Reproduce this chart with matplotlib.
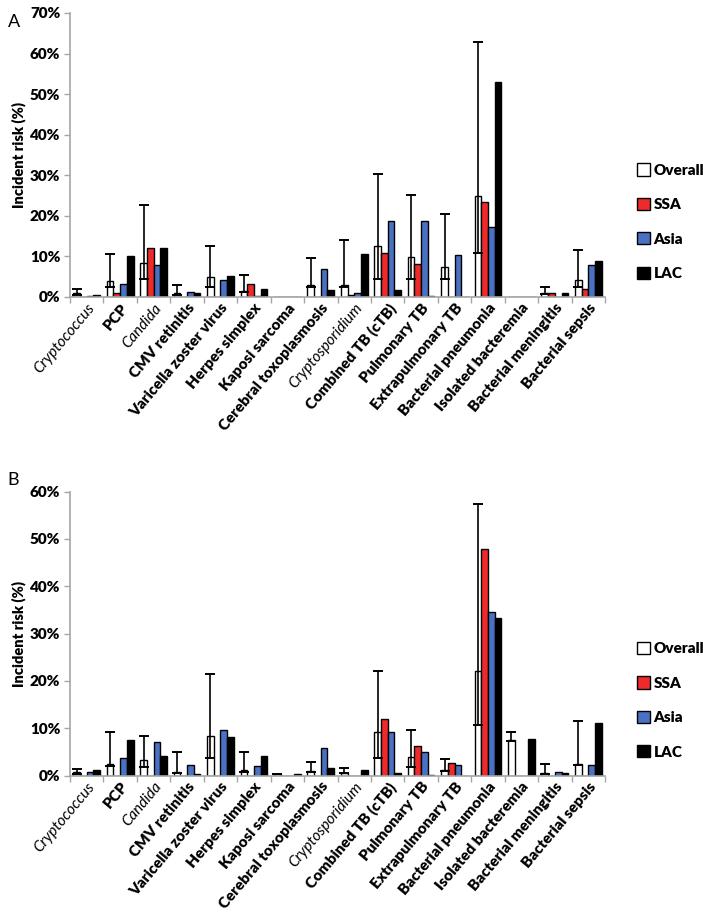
import numpy as np
import matplotlib.pyplot as plt
from matplotlib.patches import Patch

plt.rcParams['font.family'] = ['Lato', 'DejaVu Sans']

categories = ['Cryptococcus', 'PCP', 'Candida', 'CMV retinitis', 'Varicella zoster virus',
              'Herpes simplex', 'Kaposi sarcoma', 'Cerebral toxoplasmosis', 'Cryptosporidium',
              'Combined TB (cTB)', 'Pulmonary TB', 'Extrapulmonary TB', 'Bacterial pneumonia',
              'Isolated bacteremia', 'Bacterial meningitis', 'Bacterial sepsis']
italic_cats = ['Cryptococcus', 'Candida', 'Cryptosporidium']
series = ['Overall', 'SSA', 'Asia', 'LAC']
colors = ['white', '#ee2a2a', '#4a72c4', 'black']

# Panel A (%)
a_overall = [1.0, 3.9, 8.4, 0.9, 4.9, 1.5, 0, 3.0, 3.0, 12.5, 9.8, 7.5, 25.0, 0, 1.0, 4.3]
a_lo      = [0.4, 2.5, 4.5, 0.6, 2.5, 1.2, 0, 2.4, 2.5, 4.5, 4.5, 4.5, 10.8, 0, 0.7, 2.5]
a_hi      = [2.0, 10.6, 22.7, 3.0, 12.5, 5.4, 0, 9.6, 14.1, 30.2, 25.1, 20.5, 62.8, 0, 2.5, 11.6]
a_ssa     = [0, 1.1, 12.1, 0, 0, 3.3, 0, 0, 0.5, 10.8, 8.2, 0, 23.5, 0, 1.0, 2.0]
a_asia    = [0.3, 3.3, 8.0, 1.2, 4.2, 0.2, 0, 7.0, 1.1, 18.8, 18.8, 10.4, 17.3, 0, 0, 8.0]
a_lac     = [0.6, 10.1, 12.1, 0.9, 5.1, 2.0, 0, 1.7, 10.6, 1.7, 0.2, 0, 53.0, 0, 1.1, 8.8]

# Panel B (%)
b_overall = [0.7, 2.4, 3.3, 0.8, 8.4, 1.2, 0.3, 1.0, 0.6, 9.1, 4.0, 1.2, 22.2, 7.5, 0.5, 2.5]
b_lo      = [0.3, 2.0, 1.7, 0.5, 3.8, 0.8, 0.3, 0.8, 0.5, 3.8, 1.7, 1.0, 10.7, 7.4, 0.3, 2.3]
b_hi      = [1.4, 9.1, 8.4, 4.9, 21.4, 4.9, 0.3, 2.8, 1.5, 22.2, 9.6, 3.5, 57.5, 9.1, 2.4, 11.6]
b_ssa     = [0, 0, 0, 0, 0, 0, 0, 0, 0, 12.0, 6.3, 2.6, 47.9, 0, 0, 0]
b_asia    = [0.7, 3.7, 7.0, 2.3, 9.6, 2.0, 0, 5.9, 0, 9.1, 4.9, 2.3, 34.5, 0, 0.7, 2.2]
b_lac     = [1.2, 7.5, 4.2, 0.4, 8.1, 4.1, 0.3, 1.6, 1.1, 0.6, 0.2, 0, 33.4, 7.7, 0.5, 11.0]

fig = plt.figure(figsize=(7.03, 9.18), dpi=100)
ax_a = fig.add_axes([0.0996, 0.6765, 0.761, 0.3094])
ax_b = fig.add_axes([0.0996, 0.1552, 0.761, 0.3092])

x = np.arange(len(categories))
w = 0.2
grey = '#a6a6a6'


def draw_panel(ax, overall, lo, hi, ssa, asia, lac, ymax):
    vals = [overall, ssa, asia, lac]
    for k, (v, c) in enumerate(zip(vals, colors)):
        ax.bar(x + (k - 1.5) * w, v, width=w, color=c, edgecolor='black',
               linewidth=1.0, zorder=2)
    ov = np.array(overall, dtype=float)
    lo = np.array(lo, dtype=float)
    hi = np.array(hi, dtype=float)
    m = hi > 0
    err = [ov[m] - lo[m], hi[m] - ov[m]]
    ax.errorbar(x[m] - 1.5 * w, ov[m], yerr=err, fmt='none', ecolor='black',
                elinewidth=1.2, capsize=3.8, capthick=1.4, zorder=3)
    ax.set_xlim(-0.5, len(categories) - 0.5)
    ax.set_ylim(0, ymax)
    ax.set_yticks(np.arange(0, ymax + 1, 10))
    ax.set_yticklabels([f'{int(t)}%' for t in np.arange(0, ymax + 1, 10)],
                       fontsize=11, fontweight='heavy')
    ax.set_xticks(x)
    ax.set_xticks(np.arange(-0.5, len(categories), 1), minor=True)
    ax.tick_params(axis='x', which='major', length=0, pad=3)
    ax.tick_params(axis='x', which='minor', length=4, color=grey, width=1)
    ax.tick_params(axis='y', length=4, color=grey, width=1, pad=3)
    ax.set_xticklabels(categories, rotation=50, ha='right', rotation_mode='anchor',
                       fontsize=11)
    for lab in ax.get_xticklabels():
        if lab.get_text() in italic_cats:
            lab.set_fontstyle('italic')
        else:
            lab.set_fontweight('heavy')
    for s in ['top', 'right']:
        ax.spines[s].set_visible(False)
    for s in ['left', 'bottom']:
        ax.spines[s].set_color(grey)
        ax.spines[s].set_linewidth(1.2)
    ax.set_ylabel('Incident risk (%)', fontsize=10.5, fontweight='heavy', labelpad=3)
    handles = [Patch(facecolor=c, edgecolor='black', linewidth=1.0) for c in colors]
    ax.legend(handles, series, loc='center left', bbox_to_anchor=(1.035, 0.265),
              frameon=False, handlelength=0.85, handleheight=0.85, handletextpad=0.2,
              labelspacing=1.38, prop={'weight': 'heavy', 'size': 11})


draw_panel(ax_a, a_overall, a_lo, a_hi, a_ssa, a_asia, a_lac, 70)
draw_panel(ax_b, b_overall, b_lo, b_hi, b_ssa, b_asia, b_lac, 60)

fig.text(0.011, 0.976, 'A', fontsize=13, va='center', ha='left')
fig.text(0.011, 0.477, 'B', fontsize=13, va='center', ha='left')

fig.savefig('out.png', dpi=100)
